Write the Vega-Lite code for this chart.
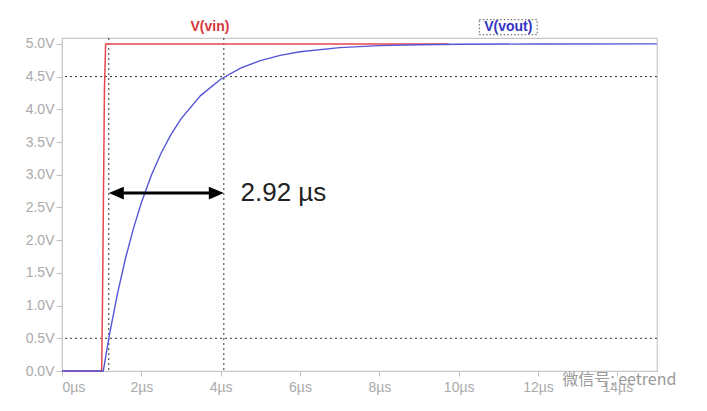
{
  "$schema": "https://vega.github.io/schema/vega-lite/v6.json",
  "description": "RC step response: V(vin) and V(vout), 10%-90% rise time 2.92 us",
  "width": 595,
  "height": 333,
  "autosize": "none",
  "padding": {"left": 62, "top": 38, "right": 50, "bottom": 40},
  "background": "white",
  "config": {
    "view": {"stroke": "#c8c8c8", "strokeWidth": 1.2},
    "font": "Liberation Sans"
  },
  "datasets": {
    "vin": [
      {"t": 0, "v": 0}, {"t": 1.0, "v": 0}, {"t": 1.02, "v": 1.0},
      {"t": 1.07, "v": 4.3}, {"t": 1.1, "v": 5.0}, {"t": 9.75, "v": 5.0}
    ],
    "vout": [
      {"t": 0, "v": 0}, {"t": 1.04, "v": 0}, {"t": 1.2, "v": 0.566},
      {"t": 1.4, "v": 1.186}, {"t": 1.6, "v": 1.719}, {"t": 1.8, "v": 2.177},
      {"t": 2.0, "v": 2.571}, {"t": 2.25, "v": 2.987}, {"t": 2.5, "v": 3.332},
      {"t": 2.75, "v": 3.618}, {"t": 3.0, "v": 3.855}, {"t": 3.5, "v": 4.213},
      {"t": 4.0, "v": 4.46}, {"t": 4.5, "v": 4.629}, {"t": 5.0, "v": 4.745},
      {"t": 5.5, "v": 4.825}, {"t": 6.0, "v": 4.88}, {"t": 7.0, "v": 4.943},
      {"t": 8.0, "v": 4.973}, {"t": 9.0, "v": 4.987}, {"t": 10, "v": 4.994},
      {"t": 12, "v": 4.999}, {"t": 15, "v": 5.0}
    ]
  },
  "encoding": {
    "x": {
      "field": "t", "type": "quantitative",
      "scale": {"domain": [0, 15], "nice": false},
      "axis": {
        "title": null, "grid": false,
        "values": [0, 2, 4, 6, 8, 10, 12, 14],
        "labelExpr": "datum.value + 'µs'",
        "labelColor": "#aaaaaa", "labelFontSize": 14, "labelPadding": 4,
        "tickColor": "#c0c0c0", "tickSize": 5, "domainColor": "#c8c8c8"
      }
    },
    "y": {
      "field": "v", "type": "quantitative",
      "scale": {"domain": [0, 5.09], "nice": false},
      "axis": {
        "title": null, "grid": false,
        "values": [0, 0.5, 1, 1.5, 2, 2.5, 3, 3.5, 4, 4.5, 5],
        "labelExpr": "format(datum.value, '.1f') + 'V'",
        "labelColor": "#aaaaaa", "labelFontSize": 14, "labelPadding": 2,
        "tickColor": "#c0c0c0", "tickSize": 6, "domainColor": "#c8c8c8"
      }
    }
  },
  "layer": [
    {
      "data": {"values": [{"v": 4.5}, {"v": 0.5}]},
      "mark": {"type": "rule", "color": "#333333", "strokeDash": [2, 3], "strokeWidth": 1},
      "encoding": {"x": null}
    },
    {
      "data": {"values": [{"t": 1.18}, {"t": 4.08}]},
      "mark": {"type": "rule", "color": "#333333", "strokeDash": [2, 3], "strokeWidth": 1},
      "encoding": {"y": null}
    },
    {
      "data": {"name": "vin"},
      "mark": {"type": "line", "color": "#e5474f", "strokeWidth": 1.5}
    },
    {
      "data": {"name": "vout"},
      "mark": {"type": "line", "color": "#5555d8", "strokeWidth": 1.4}
    },
    {
      "data": {"values": [{"t": 1.3, "t2": 3.96, "v": 2.72}]},
      "mark": {"type": "rule", "color": "black", "strokeWidth": 3},
      "encoding": {"x2": {"field": "t2"}}
    },
    {
      "data": {"values": [{"t": 1.18, "v": 2.72}]},
      "mark": {"type": "point", "filled": true, "opacity": 1, "color": "black",
               "shape": "M0,0 L2,-0.85 L2,0.85 Z", "size": 225}
    },
    {
      "data": {"values": [{"t": 4.08, "v": 2.72}]},
      "mark": {"type": "point", "filled": true, "opacity": 1, "color": "black",
               "shape": "M0,0 L-2,-0.85 L-2,0.85 Z", "size": 225}
    },
    {
      "data": {"values": [{"t": 4.5, "v": 2.72, "label": "2.92 µs"}]},
      "mark": {"type": "text", "align": "left", "baseline": "middle", "fontSize": 26, "color": "#222222"},
      "encoding": {"text": {"field": "label"}}
    },
    {
      "data": {"values": [{"t": 10.52, "t2": 11.98, "v": 5.37, "v2": 5.14}]},
      "mark": {"type": "rect", "fill": null, "stroke": "#555555", "strokeDash": [1.5, 2], "strokeWidth": 1},
      "encoding": {"x2": {"field": "t2"}, "y2": {"field": "v2"}}
    },
    {
      "data": {"values": [
        {"t": 3.73, "v": 5.26, "label": "V(vin)", "c": "vin"},
        {"t": 11.25, "v": 5.26, "label": "V(vout)", "c": "vout"}
      ]},
      "mark": {"type": "text", "align": "center", "baseline": "middle", "fontSize": 14, "fontWeight": "bold"},
      "encoding": {
        "text": {"field": "label"},
        "color": {"field": "c", "type": "nominal", "scale": {"domain": ["vin", "vout"], "range": ["#d9353c", "#3434c4"]}, "legend": null}
      }
    },
    {
      "data": {"values": [{"t": 12.61, "v": -0.14, "label": "微信号: eetrend"}]},
      "mark": {"type": "text", "align": "left", "baseline": "middle", "fontSize": 16, "color": "#9a9a9a", "font": "Noto Sans CJK SC"},
      "encoding": {"text": {"field": "label"}}
    }
  ]
}
